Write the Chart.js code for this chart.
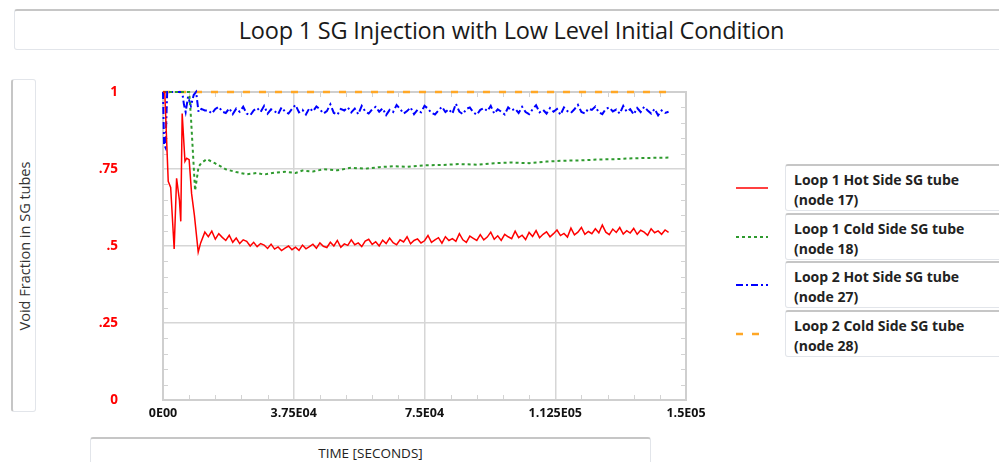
<!DOCTYPE html>
<html>
<head>
<meta charset="utf-8">
<script src="https://cdn.jsdelivr.net/npm/chart.js@4.4.1/dist/chart.umd.min.js"></script>
<style>
  body { margin: 0; background: #fff; font-family: "Open Sans", sans-serif; }
  #wrap { position: relative; width: 999px; height: 462px; overflow: hidden; }
  #chartBox { position: absolute; left: 0; top: 0; width: 999px; height: 462px; }
  .box { position: absolute; background: #fff; border: 1px solid #e2e5ea; border-radius: 3px; box-sizing: border-box; }
  #title { left: 14px; top: 9px; width: 995px; height: 41px; border-top: 2px solid #c6c6c6; font-size: 23.5px; text-align: center; line-height: 38px; color: #1a1a1a; letter-spacing: -0.2px; }
  #ytitle { left: 11px; top: 79px; width: 25px; height: 333px; border-left: 2px solid #c6c6c6; }
  #ytitle span { position: absolute; left: 50%; top: 50%; transform: translate(-50%, -50%) rotate(-90deg); white-space: nowrap; font-size: 14.5px; color: #333; }
  #xtitle { left: 90px; top: 437px; width: 561px; height: 30px; border-top: 2px solid #c6c6c6; text-align: center; font-size: 13.5px; line-height: 28px; color: #222; }
  .leg { left: 785px; width: 230px; height: 47px; border-top: 2px solid #c6c6c6; padding: 4px 0 0 8px; font-weight: bold; font-size: 14px; line-height: 20px; color: #222; }
  .legLine { position: absolute; left: 736px; width: 34px; height: 6px; }
</style>
</head>
<body>
<div id="wrap">
  <div id="chartBox"><canvas id="voidChart"></canvas></div>
  <div class="box" id="title">Loop 1 SG Injection with Low Level Initial Condition</div>
  <div class="box" id="ytitle"><span>Void Fraction in SG tubes</span></div>
  <div class="box" id="xtitle">TIME [SECONDS]</div>
  <div id="legend"></div>
</div>
<script>
// tick labels
const xTickLabels = ['0E00', '3.75E04', '7.5E04', '1.125E05', '1.5E05'];
const yTickLabels = ['0', '.25', '.5', '.75', '1'];

// legend labels (two lines each)
const seriesNames = [
  ['Loop 1 Hot Side SG tube', '(node 17)'],
  ['Loop 1 Cold Side SG tube', '(node 18)'],
  ['Loop 2 Hot Side SG tube', '(node 27)'],
  ['Loop 2 Cold Side SG tube', '(node 28)']
];

// sample times for the noisy traces after the start-up transient (s)
const lateTimes = [
  13000, 14000, 15000, 16000, 17000, 18000, 19000, 20000, 21000, 22000,
  23000, 24000, 25000, 26000, 27000, 28000, 29000, 30000, 31000, 32000,
  33000, 34000, 35000, 36000, 37000, 38000, 39000, 40000, 41000, 42000,
  43000, 44000, 45000, 46000, 47000, 48000, 49000, 50000, 51000, 52000,
  53000, 54000, 55000, 56000, 57000, 58000, 59000, 60000, 61000, 62000,
  63000, 64000, 65000, 66000, 67000, 68000, 69000, 70000, 71000, 72000,
  73000, 74000, 75000, 76000, 77000, 78000, 79000, 80000, 81000, 82000,
  83000, 84000, 85000, 86000, 87000, 88000, 89000, 90000, 91000, 92000,
  93000, 94000, 95000, 96000, 97000, 98000, 99000, 100000, 101000, 102000,
  103000, 104000, 105000, 106000, 107000, 108000, 109000, 110000, 111000, 112000,
  113000, 114000, 115000, 116000, 117000, 118000, 119000, 120000, 121000, 122000,
  123000, 124000, 125000, 126000, 127000, 128000, 129000, 130000, 131000, 132000,
  133000, 134000, 135000, 136000, 137000, 138000, 139000, 140000, 141000, 142000,
  143000, 144000, 145000
];

// Loop 1 hot side (node 17)
const hot1EarlyTimes = [0, 500, 1500, 2200, 3200, 3900, 4700, 5100, 5500, 6300, 6800, 7500, 8200, 9000, 10100, 10800, 12000];
const hot1EarlyVals = [1.0, 1.0, 0.71, 0.69, 0.49, 0.72, 0.65, 0.58, 0.93, 0.775, 0.785, 0.78, 0.67, 0.6, 0.48, 0.51, 0.545];
const hot1LateVals = [
  0.53, 0.548, 0.522, 0.54, 0.528, 0.518, 0.535, 0.512, 0.526, 0.508,
  0.52, 0.515, 0.5, 0.512, 0.498, 0.508, 0.503, 0.492, 0.506, 0.49,
  0.497, 0.485, 0.493, 0.5, 0.488, 0.496, 0.486, 0.503, 0.491, 0.498,
  0.506, 0.493, 0.51, 0.499, 0.495, 0.512, 0.5, 0.518, 0.496, 0.507,
  0.502, 0.52, 0.504, 0.51, 0.498, 0.516, 0.522, 0.505, 0.514, 0.5,
  0.519, 0.508, 0.526, 0.511, 0.504, 0.52, 0.513, 0.53, 0.507, 0.518,
  0.523, 0.51, 0.517, 0.534, 0.512, 0.52, 0.527, 0.509, 0.53, 0.518,
  0.524, 0.515, 0.54, 0.52, 0.512, 0.532, 0.525, 0.518, 0.537, 0.52,
  0.529, 0.545, 0.522, 0.533, 0.518, 0.538, 0.53, 0.524, 0.548, 0.527,
  0.535, 0.521, 0.544, 0.531, 0.55, 0.527, 0.538, 0.546, 0.53, 0.54,
  0.552, 0.534, 0.541, 0.529, 0.558, 0.536, 0.545, 0.56, 0.538, 0.547,
  0.54, 0.556, 0.543, 0.568, 0.545, 0.537, 0.555, 0.544, 0.56, 0.539,
  0.55, 0.542, 0.557, 0.538, 0.551, 0.545, 0.535, 0.556, 0.543, 0.549,
  0.538, 0.552, 0.544
];

// Loop 1 cold side (node 18)
const cold1Times = [0, 500, 7500, 8000, 9200, 10200, 11000, 12600, 15000, 18000, 21000, 24000, 27000, 29000, 32000, 35000, 38000, 40000, 43000, 46000, 50000, 54000, 58000, 62000, 66000, 70000, 75000, 80000, 85000, 90000, 95000, 100000, 105000, 110000, 115000, 120000, 125000, 130000, 135000, 140000, 145000];
const cold1Vals = [1.0, 1.0, 1.0, 0.92, 0.68, 0.757, 0.77, 0.782, 0.768, 0.749, 0.74, 0.733, 0.737, 0.732, 0.738, 0.741, 0.737, 0.745, 0.742, 0.749, 0.746, 0.754, 0.751, 0.756, 0.759, 0.757, 0.762, 0.763, 0.766, 0.764, 0.769, 0.771, 0.769, 0.774, 0.777, 0.778, 0.781, 0.782, 0.785, 0.786, 0.787];

// Loop 2 hot side (node 27)
const hot2EarlyTimes = [0, 300, 700, 1200, 5500, 6000, 6500, 7200, 8000, 8800, 9500, 10200, 11000, 12000];
const hot2EarlyVals = [1.0, 0.83, 0.82, 1.0, 1.0, 0.96, 0.935, 0.985, 0.955, 0.99, 1.0, 0.935, 0.945, 0.94];
const hot2LateVals = [
  0.94, 0.93, 0.945, 0.952, 0.936, 0.932, 0.947, 0.928, 0.946, 0.936,
  0.952, 0.93, 0.924, 0.94, 0.948, 0.935, 0.955, 0.93, 0.944, 0.938,
  0.928, 0.95, 0.936, 0.93, 0.945, 0.958, 0.934, 0.942, 0.927, 0.948,
  0.937, 0.953, 0.944, 0.93, 0.938, 0.96, 0.932, 0.926, 0.945, 0.94,
  0.95, 0.934, 0.946, 0.928, 0.955, 0.937, 0.93, 0.944, 0.952, 0.936,
  0.947, 0.925, 0.942, 0.935, 0.958, 0.945, 0.93, 0.938, 0.95, 0.928,
  0.942, 0.934, 0.955, 0.946, 0.932, 0.927, 0.94, 0.952, 0.935, 0.944,
  0.93, 0.962, 0.936, 0.928, 0.945, 0.95, 0.934, 0.926, 0.942, 0.948,
  0.938, 0.955, 0.93, 0.944, 0.936, 0.927, 0.95, 0.94, 0.946, 0.932,
  0.952, 0.935, 0.928, 0.944, 0.957, 0.934, 0.942, 0.93, 0.948, 0.936,
  0.945, 0.926, 0.95, 0.938, 0.932, 0.944, 0.958, 0.935, 0.93, 0.946,
  0.942, 0.953, 0.934, 0.928, 0.945, 0.95, 0.937, 0.943, 0.93, 0.955,
  0.936, 0.944, 0.927, 0.948, 0.935, 0.952, 0.94, 0.93, 0.945, 0.924,
  0.94, 0.932, 0.936
];

// Loop 2 cold side (node 28)
const cold2Times = [0, 145000];
const cold2Vals = [1.0, 1.0];

const colors = ['#ff0000', '#2e9a2e', '#0000ff', '#ffa726'];
const dashes = [[], [3, 3], [7, 3, 2, 3], [7, 9]];
const widths = [1.5, 2, 2, 2.5];

function toPoints(times, vals) {
  return times.map((t, i) => ({ x: t, y: vals[i] }));
}

const seriesData = [
  toPoints(hot1EarlyTimes.concat(lateTimes), hot1EarlyVals.concat(hot1LateVals)),
  toPoints(cold1Times, cold1Vals),
  toPoints(hot2EarlyTimes.concat(lateTimes), hot2EarlyVals.concat(hot2LateVals)),
  toPoints(cold2Times, cold2Vals)
];

// frame plus small inner ticks on all four sides
const framePlugin = {
  id: 'frame',
  beforeDatasetsDraw(chart) {
    const { ctx, chartArea: a, scales: { x, y } } = chart;
    ctx.save();
    ctx.strokeStyle = '#d3d3d3';
    ctx.lineWidth = 1;
    ctx.beginPath();
    for (let v = 7500; v < 150000; v += 7500) {
      if (v % 37500 === 0) continue;
      const px = Math.round(x.getPixelForValue(v)) + 0.5;
      ctx.moveTo(px, a.bottom); ctx.lineTo(px, a.bottom - 5);
      ctx.moveTo(px, a.top); ctx.lineTo(px, a.top + 5);
    }
    for (let k = 1; k < 20; k++) {
      if (k % 5 === 0) continue;
      const py = Math.round(y.getPixelForValue(k * 0.05)) + 0.5;
      ctx.moveTo(a.left, py); ctx.lineTo(a.left + 5, py);
      ctx.moveTo(a.right, py); ctx.lineTo(a.right - 5, py);
    }
    ctx.stroke();
    ctx.strokeStyle = '#cfcfcf';
    ctx.lineWidth = 2;
    ctx.strokeRect(a.left, a.top, a.right - a.left, a.bottom - a.top);
    ctx.restore();
  }
};

new Chart(document.getElementById('voidChart').getContext('2d'), {
  type: 'line',
  data: {
    datasets: seriesData.map((pts, i) => ({
      label: seriesNames[i].join(' '),
      data: pts,
      borderColor: colors[i],
      borderWidth: widths[i],
      borderDash: dashes[i],
      pointRadius: 0,
      tension: 0,
      fill: false,
      clip: 4
    }))
  },
  options: {
    responsive: true,
    maintainAspectRatio: false,
    animation: false,
    layout: { padding: { left: 0, right: 313, top: 92, bottom: 32 } },
    plugins: { legend: { display: false }, tooltip: { enabled: false } },
    scales: {
      x: {
        type: 'linear',
        min: 0,
        max: 150000,
        afterFit: (s) => { s.height = 30; },
        border: { display: false },
        grid: { color: '#d6d6d6', lineWidth: 1.5, drawTicks: false },
        ticks: {
          stepSize: 37500,
          padding: 6,
          color: '#111',
          font: { family: 'Open Sans', size: 12.5, weight: 'bold' },
          maxRotation: 0,
          callback: (v, i) => xTickLabels[i]
        }
      },
      y: {
        min: 0,
        max: 1,
        afterFit: (s) => { s.width = 163; },
        border: { display: false },
        grid: { color: '#d6d6d6', lineWidth: 1.5, drawTicks: false },
        ticks: {
          stepSize: 0.25,
          padding: 45,
          color: '#ff0000',
          font: { family: 'Open Sans', size: 13.5, weight: 'bold' },
          callback: (v, i) => yTickLabels[i]
        }
      }
    }
  },
  plugins: [framePlugin]
});

// legend boxes with drawn line samples
const legend = document.getElementById('legend');
seriesNames.forEach((name, i) => {
  const top = 164 + i * 48.5;
  const box = document.createElement('div');
  box.className = 'box leg';
  box.style.top = top + 'px';
  box.innerHTML = name[0] + '<br>' + name[1];
  legend.appendChild(box);

  const c = document.createElement('canvas');
  c.className = 'legLine';
  c.width = 34; c.height = 6;
  c.style.top = (top + 21) + 'px';
  legend.appendChild(c);
  const g = c.getContext('2d');
  g.strokeStyle = colors[i];
  g.lineWidth = widths[i];
  g.setLineDash(dashes[i]);
  g.beginPath(); g.moveTo(0, 3); g.lineTo(32, 3); g.stroke();
});
</script>
</body>
</html>
